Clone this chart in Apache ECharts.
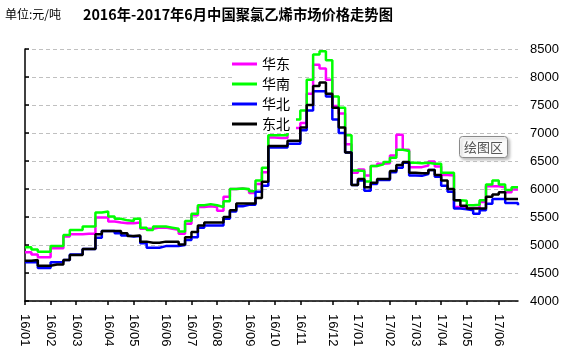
<!DOCTYPE html>
<html>
<head>
<meta charset="utf-8">
<script src="https://cdn.jsdelivr.net/npm/echarts@6/dist/echarts.min.js"></script>
<style>
  html, body { margin: 0; padding: 0; background: #fff; }
  #chart { width: 574px; height: 354px; }
</style>
</head>
<body>
<div id="chart"></div>
<script>
// 周度类目，只在每月第一周标注月份
const categories = [
  '16/01', '', '', '', '16/02', '', '', '', '16/03', '', '', '', '', '16/04', '', '', '',
  '16/05', '', '', '', '', '16/06', '', '', '', '16/07', '', '', '', '16/08', '', '', '', '',
  '16/09', '', '', '', '16/10', '', '', '', '16/11', '', '', '', '', '16/12', '', '', '',
  '17/01', '', '', '', '', '17/02', '', '', '', '17/03', '', '', '', '17/04', '', '', '',
  '17/05', '', '', '', '', '17/06', '', '', ''
]

const seriesNames = ['华东', '华南', '华北', '东北']
const seriesColors = ['#ff00ff', '#00ff00', '#0000ff', '#000000']

// 华东
const eastValues = [
  4870, 4830, 4780, 4780, 4940, 4940, 5150, 5190, 5190, 5200, 5200, 5490, 5490, 5420, 5400, 5390,
  5390, 5400, 5290, 5290, 5310, 5310, 5290, 5270, 5200, 5380, 5530, 5680, 5690, 5680, 5610, 5860,
  6000, 6010, 5990, 5930, 6090, 6300, 6920, 6910, 6910, 7090, 7090, 7180, 7700, 8220, 8150, 7950,
  7480, 7350, 6800, 6290, 6350, 6240, 6410, 6450, 6460, 6600, 6970, 6700, 6390, 6390, 6420, 6490,
  6400, 6250, 6240, 5680, 5650, 5660, 5660, 5770, 6050, 6050, 6030, 5940, 5990, 6000
]
// 华南
const southValues = [
  4960, 4920, 4880, 4880, 4980, 4980, 5180, 5270, 5270, 5330, 5330, 5580, 5600, 5510, 5470, 5440,
  5430, 5470, 5310, 5270, 5330, 5330, 5310, 5290, 5240, 5430, 5560, 5710, 5730, 5710, 5680, 5780,
  6000, 6010, 6000, 5960, 6150, 6380, 6960, 6960, 6960, 7240, 7240, 7400, 7950, 8400, 8460, 8300,
  7650, 7450, 6960, 6330, 6320, 6135, 6410, 6440, 6480, 6560, 6700, 6680, 6470, 6460, 6470, 6450,
  6450, 6290, 6290, 5800, 5790, 5710, 5720, 5800, 6080, 6150, 6080, 5980, 6030, 6040
]
// 华北
const northValues = [
  4690, 4690, 4590, 4590, 4690, 4690, 4730, 4830, 4830, 4930, 4930, 5130, 5250, 5250, 5210, 5170,
  5150, 5160, 5030, 4950, 4950, 4980, 4980, 4980, 5000, 5090, 5140, 5310, 5350, 5350, 5350, 5470,
  5600, 5690, 5720, 5720, 5950, 6060, 6740, 6740, 6740, 6810, 6810, 7050, 7400, 7745, 7745, 7650,
  7240, 7000, 6650, 6070, 6150, 5970, 6090, 6160, 6160, 6300, 6380, 6470, 6240, 6235, 6265, 6340,
  6220, 6060, 5950, 5650, 5640, 5620, 5560, 5620, 5735, 5820, 5820, 5750, 5750, 5710
]
// 东北
const northeastValues = [
  4720, 4730, 4630, 4630, 4650, 4650, 4730, 4820, 4820, 4930, 4930, 5190, 5250, 5250, 5250, 5210,
  5160, 5170, 5060, 5040, 5040, 5060, 5060, 5060, 5010, 5140, 5230, 5350, 5400, 5400, 5400, 5500,
  5620, 5740, 5740, 5740, 5840, 6130, 6770, 6770, 6770, 6860, 6860, 7100, 7500, 7840, 7900, 7700,
  7450, 7100, 6650, 6070, 6180, 6030, 6110, 6180, 6180, 6320, 6430, 6480, 6290, 6280, 6280, 6340,
  6250, 6150, 6000, 5800, 5700, 5650, 5650, 5650, 5860, 5900, 5940, 5820, 5820, 5820
]

const yTicks = [4000, 4500, 5000, 5500, 6000, 6500, 7000, 7500, 8000, 8500]

const chart = echarts.init(document.getElementById('chart'), null, { renderer: 'canvas' })

const valueList = [eastValues, southValues, northValues, northeastValues]

const option = {
  animation: false,
  backgroundColor: '#fff',
  title: [
    {
      text: '单位:元/吨',
      left: 5,
      top: 8,
      padding: 0,
      textStyle: { fontSize: 12, fontWeight: 'normal', color: '#000', fontFamily: 'Noto Sans CJK SC' }
    },
    {
      text: '2016年-2017年6月中国聚氯乙烯市场价格走势图',
      left: 83,
      top: 7,
      padding: 0,
      textStyle: { fontSize: 14.3, fontWeight: 'bold', color: '#000', fontFamily: 'Noto Sans CJK SC' }
    }
  ],
  legend: {
    orient: 'vertical',
    left: 232,
    top: 55,
    itemWidth: 25,
    itemHeight: 3,
    itemGap: 6,
    icon: 'rect',
    backgroundColor: '#fff',
    padding: [2, 6, 2, 0],
    data: seriesNames,
    textStyle: { fontSize: 14, color: '#000', lineHeight: 14, fontFamily: 'Noto Sans CJK SC' }
  },
  grid: { left: 25, right: 56, top: 49, bottom: 53 },
  xAxis: {
    type: 'category',
    boundaryGap: false,
    data: categories,
    axisLine: { lineStyle: { color: '#000', width: 1.5 } },
    axisTick: {
      length: 4,
      interval: (idx, val) => val !== '',
      lineStyle: { color: '#000', width: 1.5 }
    },
    axisLabel: {
      interval: 0,
      rotate: -90,
      margin: 13,
      color: '#000',
      fontSize: 13,
      fontFamily: 'Liberation Sans'
    },
    splitLine: { show: false }
  },
  yAxis: [
    {
      type: 'value',
      position: 'right',
      min: 4000,
      max: 8500,
      interval: 500,
      axisLine: { show: false },
      axisTick: { show: false },
      axisLabel: {
        margin: 12,
        color: '#000',
        fontSize: 13,
        fontFamily: 'Liberation Sans',
        formatter: (v) => (yTicks.includes(v) ? String(v) : '')
      },
      splitLine: { lineStyle: { color: '#c0c0c0', type: [4, 3], width: 1 } }
    },
    {
      type: 'value',
      position: 'left',
      min: 4000,
      max: 8500,
      interval: 500,
      axisLine: { show: true, lineStyle: { color: '#000', width: 1.5 } },
      axisTick: { show: true, inside: true, length: 4, lineStyle: { color: '#000', width: 1.5 } },
      axisLabel: { show: false },
      splitLine: { show: false }
    }
  ],
  series: seriesNames.map((name, i) => ({
    name,
    type: 'line',
    step: 'end',
    symbol: 'none',
    data: valueList[i],
    lineStyle: { color: seriesColors[i], width: 2.5 },
    itemStyle: { color: seriesColors[i] }
  })),
  graphic: [
    {
      type: 'group',
      left: 459,
      top: 136,
      children: [
        {
          type: 'rect',
          shape: { x: 0, y: 0, width: 48, height: 21, r: 3 },
          style: {
            fill: '#fbfbfb',
            stroke: '#8a8a8a',
            lineWidth: 1,
            shadowBlur: 3,
            shadowOffsetX: 2,
            shadowOffsetY: 2,
            shadowColor: 'rgba(0,0,0,0.25)'
          }
        },
        {
          type: 'text',
          x: 24,
          y: 11,
          style: {
            text: '绘图区',
            fill: '#555',
            fontSize: 13,
            fontFamily: 'Noto Sans CJK SC',
            align: 'center',
            verticalAlign: 'middle'
          }
        }
      ]
    }
  ]
}

chart.setOption(option)
</script>
</body>
</html>
